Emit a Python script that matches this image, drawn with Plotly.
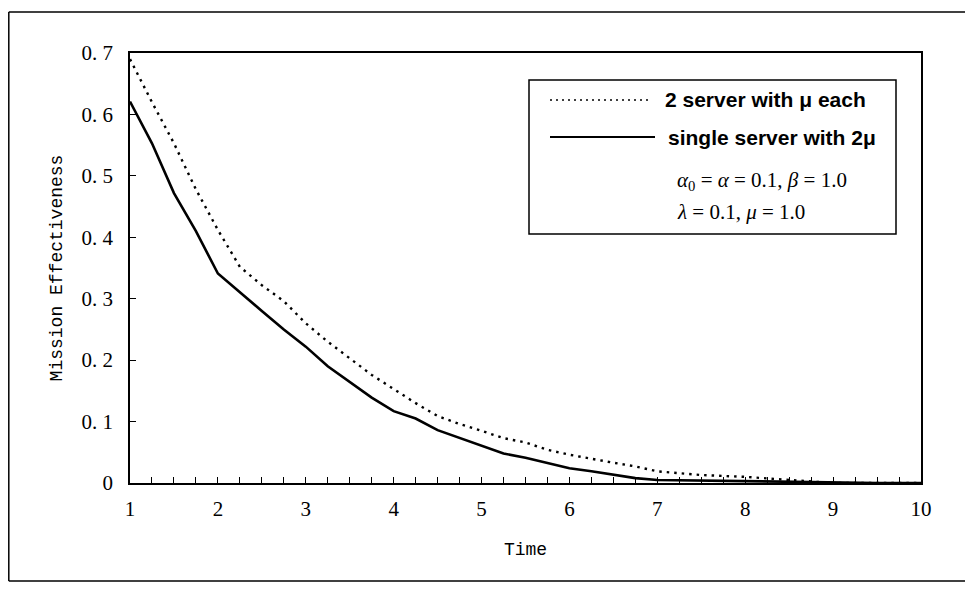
import plotly.graph_objects as go

# ---- data ----
time = [1.0, 1.25, 1.5, 1.75, 2.0, 2.25, 2.5, 2.75, 3.0, 3.25, 3.5, 3.75, 4.0, 4.25,
        4.5, 4.75, 5.0, 5.25, 5.5, 5.75, 6.0, 6.25, 6.5, 6.75, 7.0, 7.5, 8.0, 8.5,
        9.0, 9.5, 10.0]
two_server = [0.690, 0.620, 0.553, 0.478, 0.412, 0.352, 0.322, 0.296, 0.260, 0.230,
              0.203, 0.176, 0.153, 0.130, 0.109, 0.096, 0.085, 0.073, 0.066, 0.054,
              0.046, 0.039, 0.033, 0.027, 0.019, 0.013, 0.010, 0.005, 0.0, 0.0, 0.0]
single_server = [0.621, 0.553, 0.472, 0.410, 0.341, 0.310, 0.280, 0.250, 0.222, 0.190,
                 0.164, 0.139, 0.117, 0.105, 0.086, 0.073, 0.061, 0.048, 0.041, 0.033,
                 0.024, 0.019, 0.013, 0.008, 0.005, 0.004, 0.003, 0.001, 0.0, 0.0, 0.0]

series_names = ["2 server with \u03bc each", "single server with 2\u03bc"]
param_lines = ["<i>\u03b1</i><sub>0</sub> = <i>\u03b1</i> = 0.1, <i>\u03b2</i> = 1.0",
               "<i>\u03bb</i> = 0.1, <i>\u03bc</i> = 1.0"]

x_ticks = [1, 2, 3, 4, 5, 6, 7, 8, 9, 10]
y_ticks = [0, 0.1, 0.2, 0.3, 0.4, 0.5, 0.6, 0.7]
y_ticktext = ["0", "0. 1", "0. 2", "0. 3", "0. 4", "0. 5", "0. 6", "0. 7"]

# ---- layout geometry (page body has an 8px margin) ----
OFF = 8
W, H = 957, 574
L, R, T, B = 122, 44, 45, 99
PW, PH = W - L - R, H - T - B


def px(x):
    """window pixel x -> paper"""
    return (x - OFF - L) / PW


def py(y):
    """window pixel y -> paper"""
    return (H - B - (y - OFF)) / PH


fig = go.Figure()
fig.add_trace(go.Scatter(x=time, y=two_server, mode="lines", name=series_names[0],
                         line=dict(color="black", width=2.4, dash="2.5px,5px")))
fig.add_trace(go.Scatter(x=time, y=single_server, mode="lines", name=series_names[1],
                         line=dict(color="black", width=2.6)))

tick_font = dict(family="Liberation Serif", size=21, color="black")
title_font = dict(family="Liberation Mono", size=18, color="black")

fig.update_layout(
    width=W, height=H,
    margin=dict(l=L, r=R, t=T, b=B),
    paper_bgcolor="white", plot_bgcolor="white",
    showlegend=False,
    xaxis=dict(range=[1, 10], tickvals=x_ticks, ticktext=[str(v) for v in x_ticks],
               ticks="inside", ticklen=6, tickwidth=1.3, tickcolor="black",
               minor=dict(dtick=0.25, ticks="inside", ticklen=6, tickwidth=1.3, tickcolor="black"),
               showline=True, linecolor="black", linewidth=1.6, mirror=True,
               showgrid=False, zeroline=False, tickfont=tick_font, ticklabelstandoff=6,
               title=dict(text="Time", font=title_font, standoff=22)),
    yaxis=dict(range=[0, 0.7], tickvals=y_ticks, ticktext=y_ticktext,
               ticks="inside", ticklen=6, tickwidth=1.3, tickcolor="black",
               showline=True, linecolor="black", linewidth=1.6, mirror=True,
               showgrid=False, zeroline=False, tickfont=tick_font, ticklabelstandoff=11,
               title=dict(text="Mission Effectiveness", font=title_font, standoff=14)),
)

# outer frame (open on the right: it runs past the picture edge)
frame_line = dict(color="black", width=1.5)
fx0, fx1 = px(OFF + 0.8), px(OFF + W + 5)
fy0, fy1 = py(OFF + H - 1), py(12)
fig.add_shape(type="line", xref="paper", yref="paper", x0=fx0, x1=fx1, y0=fy1, y1=fy1,
              line=frame_line, layer="below")
fig.add_shape(type="line", xref="paper", yref="paper", x0=fx0, x1=fx1, y0=fy0, y1=fy0,
              line=frame_line, layer="below")
fig.add_shape(type="line", xref="paper", yref="paper", x0=fx0, x1=fx0, y0=fy0, y1=fy1,
              line=frame_line, layer="below")

# legend box
fig.add_shape(type="rect", xref="paper", yref="paper",
              x0=px(529), x1=px(896), y0=py(234), y1=py(80),
              line=dict(color="black", width=1.5), fillcolor="white")
fig.add_shape(type="line", xref="paper", yref="paper",
              x0=px(550), x1=px(648), y0=py(100), y1=py(100),
              line=dict(color="black", width=1.6, dash="2px,4px"))
fig.add_shape(type="line", xref="paper", yref="paper",
              x0=px(550), x1=px(655), y0=py(137), y1=py(137),
              line=dict(color="black", width=1.8))

leg_font = dict(family="Liberation Sans", size=21, color="black")
fig.add_annotation(xref="paper", yref="paper", x=px(663), y=py(100), xanchor="left",
                   yanchor="middle", text="<b>" + series_names[0] + "</b>", showarrow=False,
                   font=leg_font)
fig.add_annotation(xref="paper", yref="paper", x=px(666), y=py(137), xanchor="left",
                   yanchor="middle", text="<b>" + series_names[1] + "</b>", showarrow=False,
                   font=leg_font)
math_font = dict(family="Liberation Serif", size=21, color="black")
fig.add_annotation(xref="paper", yref="paper", x=px(675), y=py(181), xanchor="left",
                   yanchor="middle", text=param_lines[0], showarrow=False, font=math_font)
fig.add_annotation(xref="paper", yref="paper", x=px(675), y=py(212), xanchor="left",
                   yanchor="middle", text=param_lines[1], showarrow=False, font=math_font)

fig.write_html("out.html")
